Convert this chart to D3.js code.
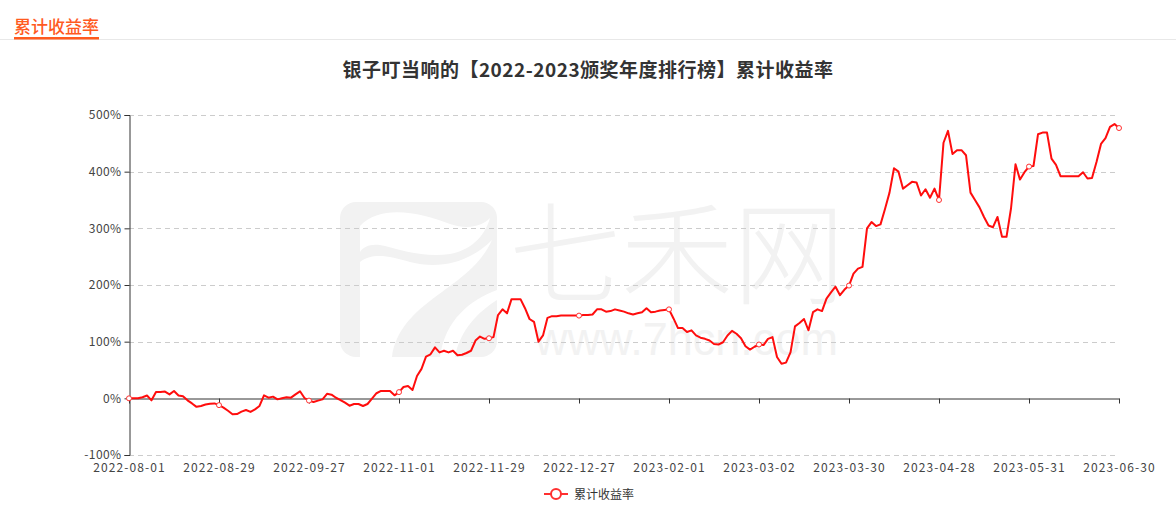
<!DOCTYPE html>
<html>
<head>
<meta charset="utf-8">
<script src="https://cdn.jsdelivr.net/npm/d3@7"></script>
<style>
  html, body { margin: 0; padding: 0; background: #fff; }
  svg { display: block; font-family: "Noto Sans CJK SC", "Noto Sans", sans-serif; }
</style>
</head>
<body>
<svg id="chart" width="1176" height="516"></svg>
<script>
const headerText = "累计收益率";
const chartTitle = "银子叮当响的【2022-2023颁奖年度排行榜】累计收益率";
const seriesName = "累计收益率";

const dates = [
"2022-08-01","2022-08-02","2022-08-03","2022-08-04","2022-08-05","2022-08-08","2022-08-09","2022-08-10","2022-08-11","2022-08-12","2022-08-15","2022-08-16","2022-08-17","2022-08-18","2022-08-19","2022-08-22","2022-08-23","2022-08-24","2022-08-25","2022-08-26","2022-08-29","2022-08-30","2022-08-31",
"2022-09-01","2022-09-02","2022-09-05","2022-09-06","2022-09-07","2022-09-08","2022-09-09","2022-09-13","2022-09-14","2022-09-15","2022-09-16","2022-09-19","2022-09-20","2022-09-21","2022-09-22","2022-09-23","2022-09-26","2022-09-27","2022-09-28","2022-09-29","2022-09-30",
"2022-10-10","2022-10-11","2022-10-12","2022-10-13","2022-10-14","2022-10-17","2022-10-18","2022-10-19","2022-10-20","2022-10-21","2022-10-24","2022-10-25","2022-10-26","2022-10-27","2022-10-28","2022-10-31",
"2022-11-01","2022-11-02","2022-11-03","2022-11-04","2022-11-07","2022-11-08","2022-11-09","2022-11-10","2022-11-11","2022-11-14","2022-11-15","2022-11-16","2022-11-17","2022-11-18","2022-11-21","2022-11-22","2022-11-23","2022-11-24","2022-11-25","2022-11-28","2022-11-29","2022-11-30",
"2022-12-01","2022-12-02","2022-12-05","2022-12-06","2022-12-07","2022-12-08","2022-12-09","2022-12-12","2022-12-13","2022-12-14","2022-12-15","2022-12-16","2022-12-19","2022-12-20","2022-12-21","2022-12-22","2022-12-23","2022-12-26","2022-12-27","2022-12-28","2022-12-29","2022-12-30",
"2023-01-03","2023-01-04","2023-01-05","2023-01-06","2023-01-09","2023-01-10","2023-01-11","2023-01-12","2023-01-13","2023-01-16","2023-01-17","2023-01-18","2023-01-19","2023-01-20","2023-01-30","2023-01-31",
"2023-02-01","2023-02-02","2023-02-03","2023-02-06","2023-02-07","2023-02-08","2023-02-09","2023-02-10","2023-02-13","2023-02-14","2023-02-15","2023-02-16","2023-02-17","2023-02-20","2023-02-21","2023-02-22","2023-02-23","2023-02-24","2023-02-28",
"2023-03-01","2023-03-02","2023-03-03","2023-03-06","2023-03-07","2023-03-08","2023-03-09","2023-03-10","2023-03-13","2023-03-14","2023-03-15","2023-03-16","2023-03-17","2023-03-20","2023-03-21","2023-03-22","2023-03-23","2023-03-24","2023-03-27","2023-03-28","2023-03-29","2023-03-30","2023-03-31",
"2023-04-03","2023-04-04","2023-04-06","2023-04-07","2023-04-10","2023-04-11","2023-04-12","2023-04-13","2023-04-14","2023-04-17","2023-04-18","2023-04-19","2023-04-20","2023-04-21","2023-04-24","2023-04-25","2023-04-26","2023-04-27","2023-04-28",
"2023-05-04","2023-05-05","2023-05-08","2023-05-09","2023-05-10","2023-05-11","2023-05-12","2023-05-15","2023-05-16","2023-05-17","2023-05-18","2023-05-19","2023-05-22","2023-05-23","2023-05-24","2023-05-25","2023-05-26","2023-05-29","2023-05-30","2023-05-31",
"2023-06-01","2023-06-02","2023-06-05","2023-06-06","2023-06-07","2023-06-08","2023-06-09","2023-06-12","2023-06-13","2023-06-14","2023-06-15","2023-06-16","2023-06-19","2023-06-20","2023-06-21","2023-06-26","2023-06-27","2023-06-28","2023-06-29","2023-06-30"
];

const returns = [
0,0,0,2,5,-3.5,11,11,12,7,
13,5,3.5,-3.5,-9,-15,-13.5,-11,-9.4,-9,
-12,-16.5,-22,-28,-27.7,-23.5,-20.6,-24,-19.4,-13.5,
5.3,1.2,3,-1.8,0,1.8,1.2,7,12.4,0.6,
-4,-6.5,-4,-1.8,8,6.5,1,-3,-7.7,-13,
-10,-10,-13.5,-10,-0.6,9,13,13,13,5.3,
11,20,21.8,14.7,39.5,52,73.6,77.7,90,81,
84,81,84,76,77,80,84,102,109,105,
106,108,147,157,150,175,175,175,159,140,
135,100,111,142,145,145,146,146,146,146,
146,147,147,148,157,157,153,154,157,155,
153,150,148,150,152,159,152,153,155,156,
157,141,124,124,117,120,111,107,105,102,
96,95,99,111,119,114,106,92,86,91,
95,94,105,108,73,61,63,81,127,133,
140,120,152,157,154,176,187,197,182,192,
199,220,229,232,300,311,304,307,334,363,
406,400,370,376,382,381,358,369,354,370,
350,451,472,431,438,438,429,363,350,337,
320,305,302,320,285,285,335,413,386,399,
409,410,466,469,469,423,412,392,392,392,
392,392,399,388,389,417,449,459,479,484,
477
];

const yTicks = [-100, 0, 100, 200, 300, 400, 500];
const xLabelEvery = 20;

const svg = d3.select("#chart");
const W = 1176;

// header
svg.append("line").attr("x1", 0).attr("x2", W).attr("y1", 39.5).attr("y2", 39.5)
  .attr("stroke", "#e8e8e8").attr("stroke-width", 1);
svg.append("text").attr("x", 14).attr("y", 33).text(headerText)
  .attr("font-size", 17).attr("font-weight", 500).attr("fill", "#ff5a1f");
svg.append("rect").attr("x", 14).attr("y", 37).attr("width", 85).attr("height", 2.5)
  .attr("fill", "#ff5a1f");

// title
svg.append("text").attr("x", 588).attr("y", 77).attr("text-anchor", "middle")
  .attr("font-size", 19).attr("letter-spacing", 0.5).attr("font-weight", "bold").attr("fill", "#333").text(chartTitle);

// scales
const x = d3.scalePoint().domain(dates).range([129, 1119]);
const y = d3.scaleLinear().domain([-100, 500]).range([455, 115]);

// watermark
const wm = svg.append("g");
wm.append("rect").attr("x", 340).attr("y", 202).attr("width", 157).attr("height", 155)
  .attr("rx", 16).attr("fill", "#f2f2f2");
wm.append("path").attr("fill", "#fff")
  .attr("d", "M360,226 C380,204 420,212 450,224 C468,230 482,226 490,218 C484,238 470,250 450,254 C425,258 400,250 385,246 C372,243 364,246 360,252 Z");
wm.append("path").attr("fill", "#fff")
  .attr("d", "M360,262 C372,252 390,256 410,262 C440,270 470,262 492,240 C470,290 400,300 392,357 L360,357 Z");
wm.append("path").attr("fill", "#fff")
  .attr("d", "M440,357 C445,320 470,300 497,290 L497,300 C478,312 460,330 455,357 Z");
wm.append("text").attr("x", 509).attr("y", 296).attr("font-size", 112).attr("font-weight", 300)
  .attr("fill", "#f2f2f2").attr("textLength", 336).attr("lengthAdjust", "spacingAndGlyphs").text("七禾网");
wm.append("text").attr("x", 535).attr("y", 355).attr("font-size", 46)
  .attr("font-family", "Liberation Sans, Arial, sans-serif")
  .attr("fill", "#f2f2f2").attr("textLength", 303).attr("lengthAdjust", "spacingAndGlyphs").text("www.7hcn.com");

// grid lines
svg.append("g").selectAll("line").data(yTicks.filter(d => d !== 0)).join("line")
  .attr("x1", 129).attr("x2", 1119)
  .attr("y1", d => Math.round(y(d)) + 0.5).attr("y2", d => Math.round(y(d)) + 0.5)
  .attr("stroke", "#ccc").attr("stroke-dasharray", "5,4").attr("stroke-width", 1);

// y axis
const yAxis = svg.append("g").attr("transform", "translate(129.5,0)")
  .call(d3.axisLeft(y).tickValues(yTicks).tickSize(5).tickPadding(3).tickFormat(d => d + "%"));
yAxis.select(".domain").attr("stroke", "#333");
yAxis.selectAll(".tick line").attr("stroke", "#333");
yAxis.selectAll("text").attr("font-size", 12).attr("fill", "#444").attr("letter-spacing", 0.4)
  .attr("font-family", "Noto Sans CJK SC, sans-serif");

// x axis (on zero)
const y0 = Math.round(y(0)) + 0.5;
const xTickVals = dates.filter((d, i) => i % xLabelEvery === 0);
const xAxis = svg.append("g").attr("transform", `translate(0,${y0})`)
  .call(d3.axisBottom(x).tickValues(xTickVals).tickSize(5).tickSizeOuter(0));
xAxis.select(".domain").attr("stroke", "#333");
xAxis.selectAll(".tick line").attr("stroke", "#333");
xAxis.selectAll("text").attr("font-size", 12).attr("fill", "#444").attr("letter-spacing", 1.1)
  .attr("font-family", "Noto Sans CJK SC, sans-serif")
  .attr("y", y(-100) - y0 + 8).attr("dy", "0.71em");

// line
const pts = dates.map((d, i) => ({ d, v: returns[i], i }));
svg.append("path").datum(pts)
  .attr("fill", "none").attr("stroke", "#ff0d0d").attr("stroke-width", 2)
  .attr("stroke-linejoin", "round")
  .attr("d", d3.line().x(p => x(p.d)).y(p => y(p.v)));

// markers
svg.append("g").selectAll("circle").data(pts.filter(p => p.i % xLabelEvery === 0)).join("circle")
  .attr("cx", p => x(p.d)).attr("cy", p => y(p.v)).attr("r", 2.5)
  .attr("fill", "#fff").attr("stroke", "#ff3030").attr("stroke-width", 1);

// legend
const lg = svg.append("g");
lg.append("line").attr("x1", 544).attr("x2", 568).attr("y1", 494).attr("y2", 494)
  .attr("stroke", "#ff3030").attr("stroke-width", 2);
lg.append("circle").attr("cx", 556).attr("cy", 494).attr("r", 5)
  .attr("fill", "#fff").attr("stroke", "#ff3030").attr("stroke-width", 2);
lg.append("text").attr("x", 574).attr("y", 498.5).attr("font-size", 12).attr("fill", "#333").text(seriesName);
</script>
</body>
</html>
